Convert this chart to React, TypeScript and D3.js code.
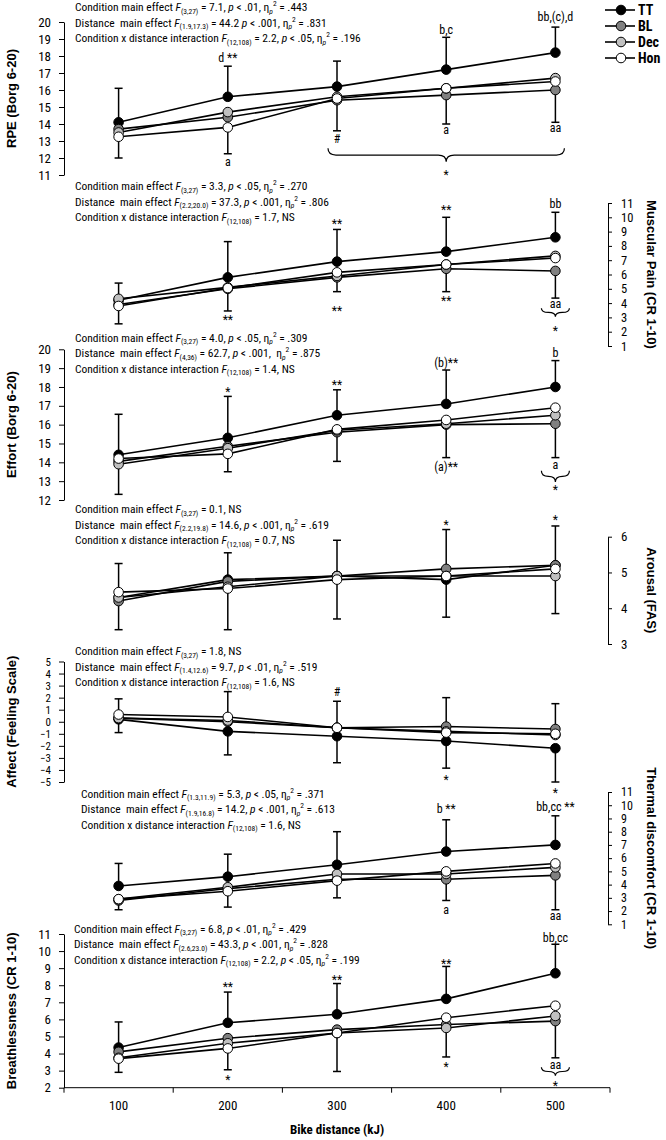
import React, { useRef, useEffect } from 'react';
import * as d3 from 'd3';

// Bike distance (kJ) categories
const distances = [100, 200, 300, 400, 500];
const seriesNames = ['TT', 'BL', 'Dec', 'Hon'];

// RPE (Borg 6-20)
const rpeTT = [14.1, 15.6, 16.2, 17.2, 18.2];
const rpeBL = [13.7, 14.4, 15.4, 15.7, 16.0];
const rpeDec = [13.5, 14.7, 15.6, 16.1, 16.7];
const rpeHon = [13.25, 13.8, 15.5, 16.1, 16.5];
const rpeErrTop = [16.1, 17.4, 17.7, 19.1, 19.7];
const rpeErrBottom = [12.0, 12.25, 13.6, 14.0, 14.1];
const rpeTicks = [11, 12, 13, 14, 15, 16, 17, 18, 19, 20];

// Muscular pain (CR 1-10)
const painTT = [4.2, 5.8, 6.9, 7.6, 8.6];
const painBL = [3.9, 5.0, 5.8, 6.4, 6.25];
const painDec = [4.3, 5.1, 5.9, 6.7, 7.3];
const painHon = [3.8, 5.05, 6.15, 6.7, 7.15];
const painErrTop = [5.4, 8.3, 9.15, 10.0, 10.35];
const painErrBottom = [2.55, 3.45, 4.8, 4.8, 4.35];
const painTicks = [1, 2, 3, 4, 5, 6, 7, 8, 9, 10, 11];

// Effort (Borg 6-20)
const effortTT = [14.4, 15.3, 16.5, 17.1, 18.0];
const effortBL = [14.05, 14.85, 15.6, 16.0, 16.05];
const effortDec = [13.9, 14.75, 15.7, 16.05, 16.5];
const effortHon = [14.2, 14.45, 15.75, 16.25, 16.9];
const effortErrTop = [16.55, 17.5, 17.85, 18.9, 19.4];
const effortErrBottom = [12.3, 13.5, 14.05, 14.25, 14.25];
const effortTicks = [12, 13, 14, 15, 16, 17, 18, 19, 20];

// Arousal (FAS)
const arousalTT = [4.3, 4.8, 4.9, 4.8, 5.2];
const arousalBL = [4.2, 4.75, 4.9, 5.1, 5.2];
const arousalDec = [4.3, 4.6, 4.9, 4.9, 4.9];
const arousalHon = [4.45, 4.55, 4.8, 4.9, 5.1];
const arousalErrTop = [5.25, 5.55, 5.9, 6.2, 6.3];
const arousalErrBottom = [3.4, 3.4, 3.7, 3.75, 3.85];
const arousalTicks = [3, 4, 5, 6];

// Affect (Feeling Scale)
const affectTT = [0.2, -0.8, -1.2, -1.6, -2.2];
const affectBL = [0.3, 0.0, -0.5, -0.4, -0.6];
const affectDec = [0.3, 0.1, -0.5, -0.8, -1.1];
const affectHon = [0.6, 0.4, -0.5, -0.9, -1.0];
const affectErrTop = [1.9, 2.5, 1.7, 2.0, 1.5];
const affectErrBottom = [-0.9, -2.75, -3.4, -3.85, -5.0];
const affectTicks = [-5, -4, -3, -2, -1, 0, 1, 2, 3, 4, 5];

// Thermal discomfort (CR 1-10)
const thermalTT = [3.9, 4.6, 5.5, 6.5, 7.0];
const thermalBL = [2.8, 3.7, 4.4, 4.4, 4.7];
const thermalDec = [2.9, 3.8, 4.8, 4.8, 5.3];
const thermalHon = [2.9, 3.5, 4.3, 5.0, 5.6];
const thermalErrTop = [5.6, 6.3, 8.0, 8.9, 9.2];
const thermalErrBottom = [2.1, 2.3, 3.0, 2.8, 2.1];
const thermalTicks = [1, 2, 3, 4, 5, 6, 7, 8, 9, 10, 11];

// Breathlessness (CR 1-10)
const breathTT = [4.35, 5.8, 6.3, 7.2, 8.7];
const breathBL = [4.1, 4.9, 5.4, 5.7, 5.9];
const breathDec = [3.75, 4.6, 5.2, 5.5, 6.2];
const breathHon = [3.7, 4.3, 5.2, 6.1, 6.8];
const breathErrTop = [5.85, 7.6, 8.1, 9.1, 10.4];
const breathErrBottom = [2.9, 3.05, 2.95, 3.8, 3.75];
const breathTicks = [2, 3, 4, 5, 6, 7, 8, 9, 10, 11];

// significance marks: distance, y value, text
const rpeNotes = [
  { at: 200, v: 17.9, text: 'd **' },
  { at: 400, v: 19.53, text: 'b,c' },
  { at: 500, v: 20.3, text: 'bb,(c),d' },
  { at: 200, v: 11.78, text: 'a' },
  { at: 300, v: 13.1, text: '#' },
  { at: 400, v: 13.65, text: 'a' },
  { at: 500, v: 13.76, text: 'aa' },
  { at: 400, v: 11.19, text: '*' },
];
const painNotes = [
  { at: 200, v: 3.05, text: '**' },
  { at: 300, v: 9.76, text: '**' },
  { at: 300, v: 3.66, text: '**' },
  { at: 400, v: 10.74, text: '**' },
  { at: 400, v: 4.36, text: '**' },
  { at: 500, v: 10.93, text: 'bb' },
  { at: 500, v: 3.95, text: 'aa' },
  { at: 500, v: 2.24, text: '*' },
];
const effortNotes = [
  { at: 200, v: 17.89, text: '*' },
  { at: 300, v: 18.28, text: '**' },
  { at: 400, v: 19.27, text: '(b)**' },
  { at: 500, v: 19.82, text: 'b' },
  { at: 400, v: 13.77, text: '(a)**' },
  { at: 500, v: 13.85, text: 'a' },
  { at: 500, v: 12.71, text: '*' },
];
const arousalNotes = [
  { at: 400, v: 6.42, text: '*' },
  { at: 500, v: 6.56, text: '*' },
];
const affectNotes = [
  { at: 300, v: 2.49, text: '#' },
  { at: 400, v: -4.56, text: '*' },
  { at: 500, v: -5.66, text: '*' },
];
const thermalNotes = [
  { at: 400, v: 9.69, text: 'b **' },
  { at: 500, v: 9.89, text: 'bb,cc **' },
  { at: 400, v: 2.09, text: 'a' },
  { at: 500, v: 1.63, text: 'aa' },
];
const breathNotes = [
  { at: 200, v: 8.07, text: '**' },
  { at: 300, v: 8.5, text: '**' },
  { at: 400, v: 9.42, text: '**' },
  { at: 500, v: 10.78, text: 'bb,cc' },
  { at: 200, v: 2.61, text: '*' },
  { at: 400, v: 3.39, text: '*' },
  { at: 500, v: 3.35, text: 'aa' },
  { at: 500, v: 2.29, text: '*' },
];

// curly braces: from/to distance, ends and tip in y units
const rpeBraces = [{ from: 300, to: 500, top: 12.57, tip: 11.78 }];
const painBraces = [{ from: 500, to: 500, top: 3.64, tip: 3.05 }];
const effortBraces = [{ from: 500, to: 500, top: 13.55, tip: 12.95 }];
const breathBraces = [{ from: 500, to: 500, top: 3.2, tip: 2.7 }];

// ANOVA summaries (*x* italic, _{..} subscript, ^{..} superscript)
const rpeStats = [
  'Condition main effect *F*_{(3,27)} = 7.1, *p* < .01, η_{*p*}^{2} = .443',
  'Distance  main effect *F*_{(1.9,17.3)} = 44.2 *p* < .001, η_{*p*}^{2} = .831',
  'Condition x distance interaction *F*_{(12,108)} = 2.2, *p* < .05, η_{*p*}^{2} = .196',
];
const painStats = [
  'Condition main effect *F*_{(3,27)} = 3.3, *p* < .05, η_{*p*}^{2} = .270',
  'Distance  main effect *F*_{(2.2,20.0)} = 37.3, *p* < .001, η_{*p*}^{2} = .806',
  'Condition x distance interaction *F*_{(12,108)} = 1.7, NS',
];
const effortStats = [
  'Condition main effect *F*_{(3,27)} = 4.0, *p* < .05, η_{*p*}^{2} = .309',
  'Distance  main effect *F*_{(4,36)} = 62.7, *p* < .001,  η_{*p*}^{2} = .875',
  'Condition x distance interaction *F*_{(12,108)} = 1.4, NS',
];
const arousalStats = [
  'Condition main effect *F*_{(3,27)} = 0.1, NS',
  'Distance  main effect *F*_{(2.2,19.8)} = 14.6, *p* < .001, η_{*p*}^{2} = .619',
  'Condition x distance interaction *F*_{(12,108)} = 0.7, NS',
];
const affectStats = [
  'Condition main effect *F*_{(3,27)} = 1.8, NS',
  'Distance  main effect *F*_{(1.4,12.6)} = 9.7, *p* < .01, η_{*p*}^{2} = .519',
  'Condition x distance interaction *F*_{(12,108)} = 1.6, NS',
];
const thermalStats = [
  'Condition main effect *F*_{(1.3,11.9)} = 5.3, *p* < .05, η_{*p*}^{2} = .371',
  'Distance  main effect *F*_{(1.9,16.8)} = 14.2, *p* < .001, η_{*p*}^{2} = .613',
  'Condition x distance interaction *F*_{(12,108)} = 1.6, NS',
];
const breathStats = [
  'Condition main effect *F*_{(3,27)} = 6.8, *p* < .01, η_{*p*}^{2} = .429',
  'Distance  main effect *F*_{(2.6,23.0)} = 43.3, *p* < .001, η_{*p*}^{2} = .828',
  'Condition x distance interaction *F*_{(12,108)} = 2.2, *p* < .05, η_{*p*}^{2} = .199',
];

const NARROW = "'Liberation Sans Narrow', 'Arial Narrow', 'Roboto Condensed', sans-serif";
const BOLD = "'Liberation Sans', Arial, sans-serif";
const FILLS = ['#000000', '#808080', '#c0c0c0', '#ffffff'];

type Note = { at: number; v: number; text: string };
type Brace = { from: number; to: number; top: number; tip: number };

interface Panel {
  label: string;
  side: 'left' | 'right';
  domain: [number, number];
  range: [number, number];
  ticks: number[];
  tickFont: number;
  series: number[][];
  errTop: number[];
  errBottom: number[];
  notes: Note[];
  braces: Brace[];
  stats: string[];
  statsX: number;
  statsY: number;
}

function appendRich(text: d3.Selection<SVGTextElement, unknown, null, undefined>, str: string) {
  const parts = str.split(/(\*[^*]+\*|_\{[^}]*\}|\^\{[^}]*\})/).filter(s => s.length > 0);
  let shift = 0;
  parts.forEach(p => {
    let txt = p;
    let kind = 0;
    let italic = false;
    if (p.startsWith('_{')) { txt = p.slice(2, -1); kind = 1; }
    else if (p.startsWith('^{')) { txt = p.slice(2, -1); kind = -1; }
    if (txt.length > 2 && txt.startsWith('*') && txt.endsWith('*')) {
      italic = true;
      txt = txt.slice(1, -1);
    }
    const target = kind === 1 ? 2.5 : kind === -1 ? -5 : 0;
    const t = text.append('tspan').attr('dy', target - shift).text(txt);
    if (kind !== 0) t.attr('font-size', 7.5);
    if (italic) t.attr('font-style', 'italic');
    shift = target;
  });
}

const App: React.FC = () => {
  const svgRef = useRef<SVGSVGElement | null>(null);

  useEffect(() => {
    if (!svgRef.current) return;
    const width = 666;
    const height = 1140;
    const xLeft = 64;
    const xRight = 610;
    const axisRightX = 608;

    d3.select(svgRef.current).selectAll('*').remove();
    const svg = d3.select(svgRef.current).attr('width', width).attr('height', height);

    svg.append('rect').attr('width', width).attr('height', height).attr('fill', '#ffffff');

    const x = d3.scaleBand<number>().domain(distances).range([xLeft, xRight]);
    const cx = (d: number) => (x(d) || 0) + x.bandwidth() / 2;

    const panels: Panel[] = [
      { label: 'RPE (Borg 6-20)', side: 'left', domain: [11, 20], range: [175, 22], ticks: rpeTicks, tickFont: 13,
        series: [rpeTT, rpeBL, rpeDec, rpeHon], errTop: rpeErrTop, errBottom: rpeErrBottom,
        notes: rpeNotes, braces: rpeBraces, stats: rpeStats, statsX: 75, statsY: 11 },
      { label: 'Muscular Pain (CR 1-10)', side: 'right', domain: [1, 11], range: [346, 203], ticks: painTicks, tickFont: 12.5,
        series: [painTT, painBL, painDec, painHon], errTop: painErrTop, errBottom: painErrBottom,
        notes: painNotes, braces: painBraces, stats: painStats, statsX: 75, statsY: 190 },
      { label: 'Effort (Borg 6-20)', side: 'left', domain: [12, 20], range: [500, 349.3], ticks: effortTicks, tickFont: 13,
        series: [effortTT, effortBL, effortDec, effortHon], errTop: effortErrTop, errBottom: effortErrBottom,
        notes: effortNotes, braces: effortBraces, stats: effortStats, statsX: 75, statsY: 341.5 },
      { label: 'Arousal (FAS)', side: 'right', domain: [3, 6], range: [644, 536.7], ticks: arousalTicks, tickFont: 13,
        series: [arousalTT, arousalBL, arousalDec, arousalHon], errTop: arousalErrTop, errBottom: arousalErrBottom,
        notes: arousalNotes, braces: [], stats: arousalStats, statsX: 75, statsY: 513 },
      { label: 'Affect (Feeling Scale)', side: 'left', domain: [-5, 5], range: [782, 661.5], ticks: affectTicks, tickFont: 11,
        series: [affectTT, affectBL, affectDec, affectHon], errTop: affectErrTop, errBottom: affectErrBottom,
        notes: affectNotes, braces: [], stats: affectStats, statsX: 75, statsY: 655 },
      { label: 'Thermal discomfort (CR 1-10)', side: 'right', domain: [1, 11], range: [924.3, 792], ticks: thermalTicks, tickFont: 12,
        series: [thermalTT, thermalBL, thermalDec, thermalHon], errTop: thermalErrTop, errBottom: thermalErrBottom,
        notes: thermalNotes, braces: [], stats: thermalStats, statsX: 81, statsY: 797.5 },
      { label: 'Breathlessness (CR 1-10)', side: 'left', domain: [2, 11], range: [1087.7, 934], ticks: breathTicks, tickFont: 13,
        series: [breathTT, breathBL, breathDec, breathHon], errTop: breathErrTop, errBottom: breathErrBottom,
        notes: breathNotes, braces: breathBraces, stats: breathStats, statsX: 74, statsY: 932.5 },
    ];

    panels.forEach(panel => {
      const y = d3.scaleLinear().domain(panel.domain).range(panel.range);
      const g = svg.append('g');

      // Axis
      if (panel.side === 'left') {
        const ax = g.append('g')
          .attr('transform', `translate(${xLeft},0)`)
          .call(d3.axisLeft(y).tickValues(panel.ticks).tickSize(5).tickSizeOuter(0).tickPadding(8).tickFormat(d3.format('d')));
        ax.attr('font-family', NARROW).attr('font-size', panel.tickFont);
        ax.selectAll('text').attr('fill', '#000');
        ax.selectAll('line, path').attr('stroke', '#000');
        g.append('text')
          .attr('transform', `translate(11,${(panel.range[0] + panel.range[1]) / 2}) rotate(-90)`)
          .attr('text-anchor', 'middle')
          .attr('dominant-baseline', 'central')
          .attr('font-family', BOLD)
          .attr('font-weight', 'bold')
          .attr('font-size', 13)
          .text(panel.label);
      } else {
        const ax = g.append('g')
          .attr('transform', `translate(${axisRightX},0)`)
          .call(d3.axisRight(y).tickValues(panel.ticks).tickSize(4).tickSizeOuter(0).tickPadding(9).tickFormat(d3.format('d')));
        ax.attr('font-family', NARROW).attr('font-size', panel.tickFont);
        ax.selectAll('text').attr('fill', '#000');
        ax.selectAll('line, path').attr('stroke', '#000');
        g.append('text')
          .attr('transform', `translate(651,${(panel.range[0] + panel.range[1]) / 2}) rotate(90)`)
          .attr('text-anchor', 'middle')
          .attr('dominant-baseline', 'central')
          .attr('font-family', BOLD)
          .attr('font-weight', 'bold')
          .attr('font-size', 13)
          .text(panel.label);
      }

      // Stats text
      panel.stats.forEach((s, i) => {
        const t = g.append('text')
          .attr('x', panel.statsX)
          .attr('y', panel.statsY + i * 15.5)
          .attr('font-family', NARROW)
          .attr('font-size', 11.5)
          .attr('fill', '#000')
          .style('white-space', 'pre');
        appendRich(t, s);
      });

      // Error bars (upward from the highest mean, downward from the lowest)
      distances.forEach((d, i) => {
        const vals = panel.series.map(s => s[i]);
        const hi = d3.max(vals) as number;
        const lo = d3.min(vals) as number;
        const px = cx(d);
        [[hi, panel.errTop[i]], [lo, panel.errBottom[i]]].forEach(([from, to]) => {
          g.append('line')
            .attr('x1', px).attr('x2', px)
            .attr('y1', y(from)).attr('y2', y(to))
            .attr('stroke', '#000').attr('stroke-width', 1.5);
          g.append('line')
            .attr('x1', px - 4).attr('x2', px + 4)
            .attr('y1', y(to)).attr('y2', y(to))
            .attr('stroke', '#000').attr('stroke-width', 1.5);
        });
      });

      // Lines
      const line = d3.line<number>()
        .x((_, i) => cx(distances[i]))
        .y(v => y(v));
      panel.series.forEach(s => {
        g.append('path')
          .datum(s)
          .attr('fill', 'none')
          .attr('stroke', '#000')
          .attr('stroke-width', 1.6)
          .attr('d', line);
      });

      // Markers
      panel.series.forEach((s, si) => {
        g.selectAll(null)
          .data(s)
          .enter()
          .append('circle')
          .attr('cx', (_, i) => cx(distances[i]))
          .attr('cy', v => y(v))
          .attr('r', 4.8)
          .attr('fill', FILLS[si])
          .attr('stroke', '#000')
          .attr('stroke-width', 1);
      });

      // Braces
      panel.braces.forEach(b => {
        const pad = b.from === b.to ? 14 : 9;
        const x1 = cx(b.from) - pad;
        const x2 = cx(b.to) + pad;
        const xm = (x1 + x2) / 2;
        const y0 = y(b.top);
        const y2 = y(b.tip);
        const y1 = (y0 + y2) / 2;
        const r = Math.min(8, (x2 - x1) / 4);
        const p = d3.path();
        p.moveTo(x1, y0);
        p.quadraticCurveTo(x1, y1, x1 + r, y1);
        p.lineTo(xm - r, y1);
        p.quadraticCurveTo(xm, y1, xm, y2);
        p.quadraticCurveTo(xm, y1, xm + r, y1);
        p.lineTo(x2 - r, y1);
        p.quadraticCurveTo(x2, y1, x2, y0);
        g.append('path')
          .attr('d', p.toString())
          .attr('fill', 'none')
          .attr('stroke', '#000')
          .attr('stroke-width', 1.2);
      });

      // Annotations
      panel.notes.forEach(n => {
        const starsOnly = /^\*+$/.test(n.text);
        g.append('text')
          .attr('x', cx(n.at))
          .attr('y', y(n.v) + (starsOnly ? 7 : 4))
          .attr('text-anchor', 'middle')
          .attr('font-family', NARROW)
          .attr('font-size', 12)
          .attr('fill', '#000')
          .style('white-space', 'pre')
          .text(n.text);
      });
    });

    // X axis
    const xAxisY = 1087.7;
    const xg = svg.append('g');
    xg.append('line')
      .attr('x1', xLeft).attr('x2', xRight)
      .attr('y1', xAxisY).attr('y2', xAxisY)
      .attr('stroke', '#000');
    [...distances.map(d => x(d) || 0), xRight].forEach(bx => {
      xg.append('line')
        .attr('x1', bx).attr('x2', bx)
        .attr('y1', xAxisY).attr('y2', xAxisY + 5)
        .attr('stroke', '#000');
    });
    distances.forEach(d => {
      xg.append('text')
        .attr('x', cx(d))
        .attr('y', 1110)
        .attr('text-anchor', 'middle')
        .attr('font-family', NARROW)
        .attr('font-size', 13)
        .text(String(d));
    });
    xg.append('text')
      .attr('x', (xLeft + xRight) / 2)
      .attr('y', 1134)
      .attr('text-anchor', 'middle')
      .attr('font-family', NARROW)
      .attr('font-weight', 'bold')
      .attr('font-size', 13)
      .text('Bike distance (kJ)');

    // Legend
    const legend = svg.append('g').attr('transform', 'translate(605,10)');
    seriesNames.forEach((name, i) => {
      const ly = i * 16;
      legend.append('line')
        .attr('x1', 0).attr('x2', 30)
        .attr('y1', ly).attr('y2', ly)
        .attr('stroke', '#000').attr('stroke-width', 1.6);
      legend.append('circle')
        .attr('cx', 16).attr('cy', ly).attr('r', 4.8)
        .attr('fill', FILLS[i]).attr('stroke', '#000').attr('stroke-width', 1);
      legend.append('text')
        .attr('x', 33).attr('y', ly + 5)
        .attr('font-family', NARROW)
        .attr('font-weight', 'bold')
        .attr('font-size', 14)
        .text(name);
    });
  }, []);

  return <svg ref={svgRef} style={{ position: 'absolute', left: 0, top: 0, display: 'block' }} />;
};

export default App;
